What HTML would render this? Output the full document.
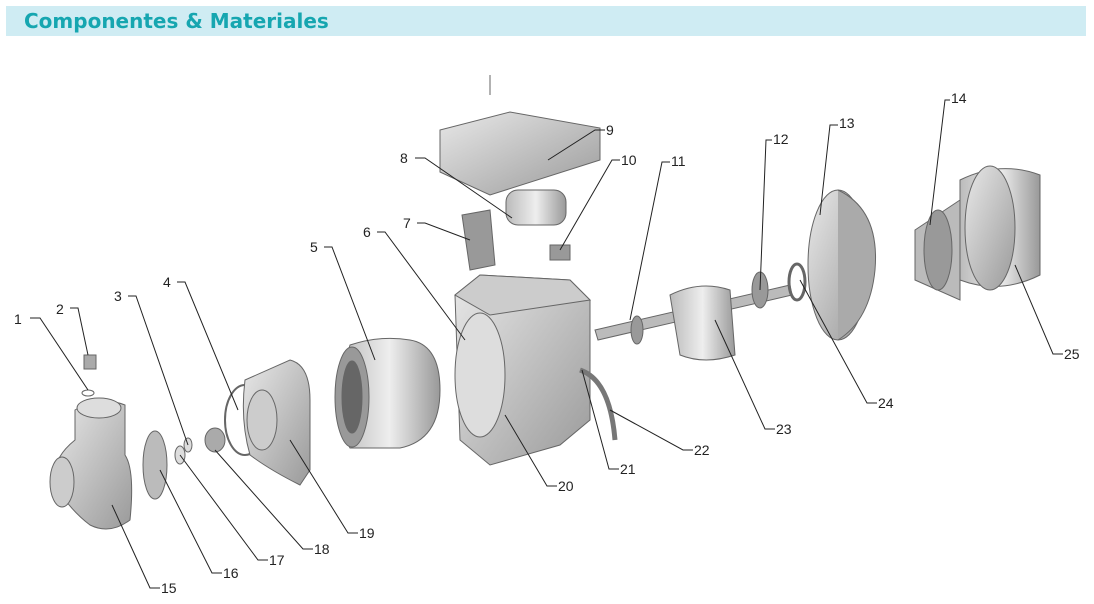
<!DOCTYPE html>
<html><head><meta charset="utf-8"><style>
html,body{margin:0;padding:0;background:#fff;width:1094px;height:604px;overflow:hidden}
.hdr{position:absolute;left:6px;top:6px;width:1080px;height:30px;background:#cfecf3}
.hdr span{position:absolute;left:18px;top:3px;font:bold 20px "DejaVu Sans","Liberation Sans",sans-serif;color:#16a6b0;white-space:nowrap}
svg{position:absolute;left:0;top:0}
text{font:14px "Liberation Sans",sans-serif;fill:#222}
</style></head><body>
<div class="hdr"><span>Componentes &amp; Materiales</span></div>
<svg width="1094" height="604">
<defs>
<linearGradient id="g" x1="0" y1="0" x2="1" y2="1"><stop offset="0" stop-color="#e8e8e8"/><stop offset="1" stop-color="#9a9a9a"/></linearGradient>
<linearGradient id="g2" x1="0" y1="0" x2="1" y2="0"><stop offset="0" stop-color="#bbb"/><stop offset=".5" stop-color="#eee"/><stop offset="1" stop-color="#999"/></linearGradient>
</defs>
<g stroke="#666" stroke-width="1" fill="url(#g)">
<path d="M75 410 Q100 395 125 405 L125 455 Q135 470 130 520 Q110 535 90 525 Q70 510 55 485 Q50 460 75 440 Z"/>
<ellipse cx="62" cy="482" rx="12" ry="25" fill="#ccc"/>
<ellipse cx="99" cy="408" rx="22" ry="10" fill="#ddd"/>
<ellipse cx="88" cy="393" rx="6" ry="3" fill="none"/>
<rect x="84" y="355" width="12" height="14" fill="#aaa"/>
<ellipse cx="155" cy="465" rx="12" ry="34" fill="#bbb"/>
<ellipse cx="180" cy="455" rx="5" ry="9" fill="#ddd"/>
<ellipse cx="188" cy="445" rx="4" ry="7" fill="#ddd"/>
<ellipse cx="215" cy="440" rx="10" ry="12" fill="#aaa"/>
<ellipse cx="245" cy="420" rx="20" ry="35" fill="none" stroke-width="2"/>
<path d="M245 380 L290 360 Q310 365 310 400 L310 470 L300 485 Q270 470 250 455 Q240 420 245 380 Z"/>
<ellipse cx="262" cy="420" rx="15" ry="30" fill="#ccc"/>
<path d="M350 345 Q380 335 410 340 Q440 345 440 390 Q440 440 400 448 L350 448 Q335 420 340 380 Z" fill="url(#g2)"/>
<ellipse cx="352" cy="397" rx="17" ry="50" fill="#999"/>
<ellipse cx="352" cy="397" rx="10" ry="36" fill="#666"/>
<path d="M455 295 L480 275 L570 280 L590 300 L590 420 L560 445 L490 465 L460 440 Z" fill="url(#g)"/>
<ellipse cx="480" cy="375" rx="25" ry="62" fill="#ddd"/>
<path d="M455 295 L480 275 L570 280 L590 300 L490 315 Z" fill="#ccc"/>
<path d="M462 215 L490 210 L495 265 L470 270 Z" fill="#999"/>
<rect x="506" y="190" width="60" height="35" rx="12" fill="url(#g2)"/>
<path d="M440 130 L510 112 L600 128 L600 160 L490 195 L440 172 Z"/>
<line x1="490" y1="75" x2="490" y2="95"/>
<rect x="550" y="245" width="20" height="15" fill="#999"/>
<path d="M595 330 L790 285 L792 295 L598 340 Z" fill="#bbb"/>
<path d="M670 295 Q700 280 730 290 L735 355 Q705 365 680 355 Z" fill="url(#g2)"/>
<ellipse cx="637" cy="330" rx="6" ry="14" fill="#999"/>
<ellipse cx="760" cy="290" rx="8" ry="18" fill="#999"/>
<ellipse cx="797" cy="282" rx="8" ry="18" fill="none" stroke-width="3"/>
<ellipse cx="838" cy="265" rx="30" ry="75" fill="url(#g)"/>
<path d="M838 190 Q880 210 875 270 Q870 320 838 340" fill="#aaa"/>
<path d="M915 230 L960 200 L960 300 L915 280 Z" fill="#bbb"/>
<ellipse cx="938" cy="250" rx="14" ry="40" fill="#999"/>
<path d="M960 180 Q1000 160 1040 175 L1040 275 Q1000 295 960 280 Z" fill="url(#g2)"/>
<ellipse cx="990" cy="228" rx="25" ry="62" fill="url(#g)"/>
<path d="M580 370 Q610 380 615 440" fill="none" stroke="#777" stroke-width="5"/>
</g>
<g stroke="#222" stroke-width="1" fill="none">
<polyline points="30,318 40,318 88,390"/>
<polyline points="70,308 78,308 88,355"/>
<polyline points="128,296 136,296 188,445"/>
<polyline points="177,282 185,282 238,410"/>
<polyline points="324,247 332,247 375,360"/>
<polyline points="377,232 385,232 465,340"/>
<polyline points="417,223 425,223 470,240"/>
<polyline points="415,158 425,158 512,218"/>
<polyline points="605,130 595,130 548,160"/>
<polyline points="620,160 612,160 560,250"/>
<polyline points="670,162 662,162 630,320"/>
<polyline points="772,140 766,140 760,290"/>
<polyline points="838,125 830,125 820,215"/>
<polyline points="950,100 945,100 930,225"/>
<polyline points="160,588 150,588 112,505"/>
<polyline points="222,573 212,573 160,470"/>
<polyline points="268,560 258,560 180,455"/>
<polyline points="313,549 303,549 215,450"/>
<polyline points="358,533 348,533 290,440"/>
<polyline points="557,486 547,486 505,415"/>
<polyline points="619,469 609,469 582,370"/>
<polyline points="693,450 683,450 610,410"/>
<polyline points="775,429 765,429 715,320"/>
<polyline points="877,403 867,403 800,280"/>
<polyline points="1063,354 1053,354 1015,265"/>
</g>
<g>
<text x="14" y="324">1</text><text x="56" y="314">2</text><text x="114" y="301">3</text>
<text x="163" y="287">4</text><text x="310" y="252">5</text><text x="363" y="237">6</text>
<text x="403" y="228">7</text><text x="400" y="163">8</text><text x="606" y="135">9</text>
<text x="621" y="165">10</text><text x="671" y="166">11</text><text x="773" y="144">12</text>
<text x="839" y="128">13</text><text x="951" y="103">14</text><text x="161" y="593">15</text>
<text x="223" y="578">16</text><text x="269" y="565">17</text><text x="314" y="554">18</text>
<text x="359" y="538">19</text><text x="558" y="491">20</text><text x="620" y="474">21</text>
<text x="694" y="455">22</text><text x="776" y="434">23</text><text x="878" y="408">24</text>
<text x="1064" y="359">25</text>
</g>
</svg>
</body></html>
